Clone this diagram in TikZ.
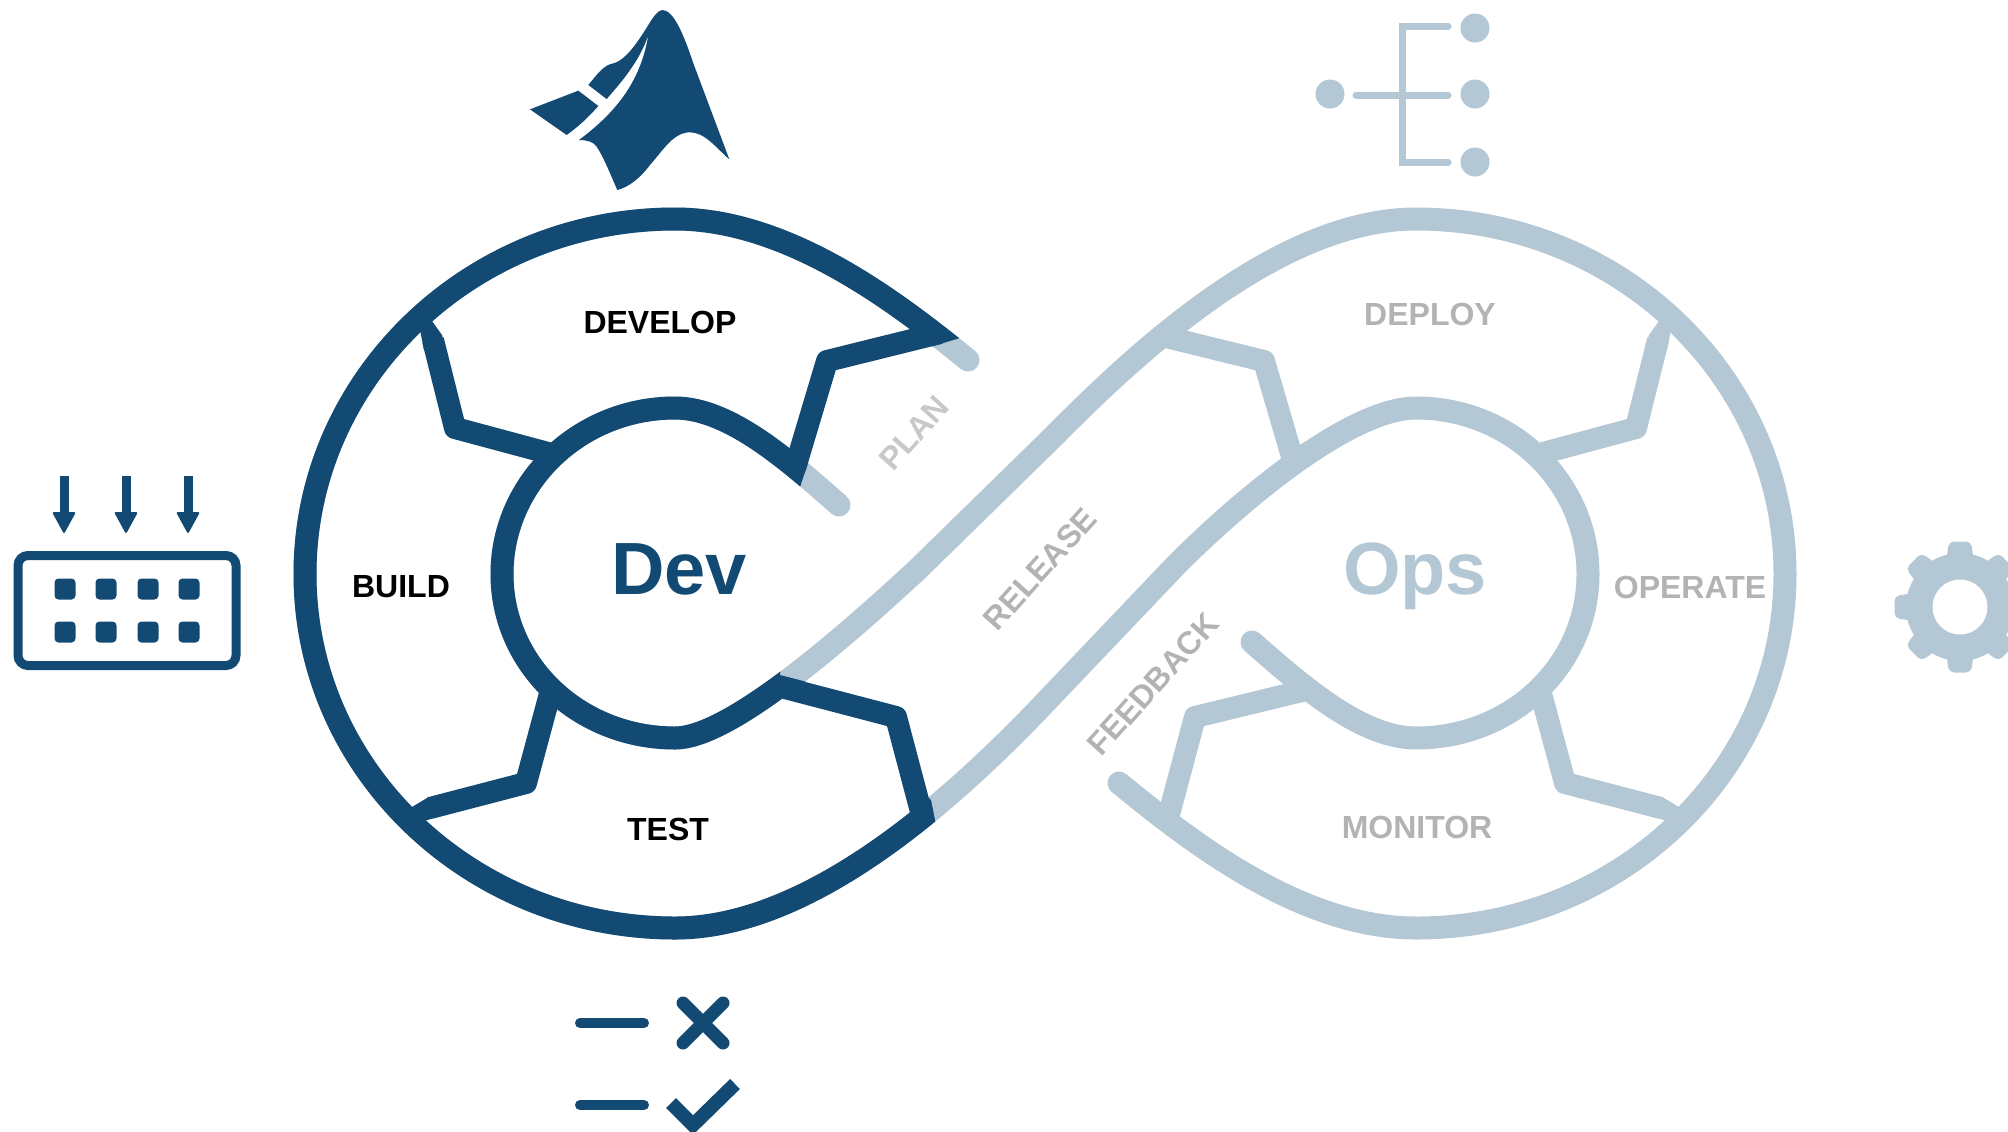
\documentclass[tikz,border=0pt]{standalone}
\usepackage{fontspec}
\setmainfont{Liberation Sans}
\definecolor{devblue}{HTML}{134A73}
\definecolor{opsblue}{HTML}{B4C7D4}
\definecolor{labelgray}{HTML}{B3B3B3}
\definecolor{plangray}{HTML}{C8C8C8}
\tikzset{
  band/.style={line width=11.5pt,line cap=round,line join=round},
  spoke/.style={line width=11pt,line cap=butt,line join=round},
  phase/.style={font=\fontsize{16pt}{18pt}\selectfont\bfseries,inner sep=0pt},
  sidelabel/.style={font=\fontsize{16pt}{18pt}\selectfont\bfseries,inner sep=0pt,text=labelgray},
  bigword/.style={font=\fontsize{37pt}{40pt}\selectfont\bfseries,inner sep=0pt,anchor=base},
  iconbar/.style={line width=5pt,line cap=round,draw=devblue},
  treebar/.style={line width=3.5pt,draw=opsblue,line join=miter}
}
\begin{document}
\begin{tikzpicture}[x=0.5pt,y=-0.5pt]
\useasboundingbox (0,0) rectangle (2008,1131);

% light infinity strands
\draw[band,opsblue] (839,505) .. controls (790,462) and (730,408) .. (675,408)
  .. controls (579,408) and (502,483) .. (502,574)
  .. controls (502,665) and (579,738) .. (675,738)
  .. controls (725,738) and (825,655) .. (917,570)
  -- (1054,436)
  .. controls (1141,348) and (1281,219) .. (1416,219)
  .. controls (1620,219) and (1785,378) .. (1785,574)
  .. controls (1785,770) and (1620,928) .. (1416,928)
  .. controls (1301,928) and (1191,842) .. (1119,783);
\draw[band,opsblue] (968,360) .. controls (900,305) and (790,219) .. (675,219)
  .. controls (471,219) and (305,378) .. (305,574)
  .. controls (305,770) and (471,928) .. (675,928)
  .. controls (810,928) and (950,801) .. (1037,711)
  -- (1178,563)
  .. controls (1266,476) and (1360,408) .. (1416,408)
  .. controls (1512,408) and (1588,483) .. (1588,574)
  .. controls (1588,665) and (1512,738) .. (1416,738)
  .. controls (1361,738) and (1301,685) .. (1252,642);

% light spokes
\draw[spoke,opsblue] (1166,337) -- (1264,361) -- (1293,460);
\draw[spoke,opsblue] (1658,340) -- (1636,428) -- (1543,453);
\fill[opsblue] (1659,321) -- (1649,335) -- (1645,350) -- (1667,350) -- (1673,320) -- cycle;
\draw[spoke,opsblue] (1661,808) -- (1565,783) -- (1540,690);
\fill[opsblue] (1679,807) -- (1664,798) -- (1646,793.5) -- (1643,814) -- (1674,823) -- cycle;
\draw[spoke,opsblue] (1306,690) -- (1195,717) -- (1168,818);

% dark strands, cut off where the spokes end
\begin{scope}
\clip (0,0) -- (960,0) -- (960,338) -- (930,347) -- (808,463) -- (800,487)
  -- (780,675) -- (807,682) -- (931,800) -- (936,825) -- (936,1131) -- (0,1131) -- cycle;
\draw[band,devblue] (968,360) .. controls (900,305) and (790,219) .. (675,219)
  .. controls (471,219) and (305,378) .. (305,574)
  .. controls (305,770) and (471,928) .. (675,928)
  .. controls (810,928) and (950,801) .. (1037,711);
\draw[band,devblue] (839,505) .. controls (790,462) and (730,408) .. (675,408)
  .. controls (579,408) and (502,483) .. (502,574)
  .. controls (502,665) and (579,738) .. (675,738)
  .. controls (725,738) and (825,655) .. (917,570);
\end{scope}

% dark spokes
\draw[spoke,devblue] (940,333) -- (827,361) -- (795,468);
\draw[spoke,devblue] (433,340) -- (455,428) -- (548,453);
\fill[devblue] (432,321) -- (442,335) -- (446,350) -- (424,350) -- (418,320) -- cycle;
\draw[spoke,devblue] (430,808) -- (526,783) -- (551,690);
\fill[devblue] (412,807) -- (427,798) -- (445,793.5) -- (448,814) -- (417,823) -- cycle;
\draw[spoke,devblue] (785,688) -- (896,717) -- (923.5,821);

% labels
\node[phase] (develop) at (660,322) {DEVELOP};
\node[phase] (build) at (401,587) {BUILD};
\node[phase] (test) at (668,829) {TEST};
\node[phase,text=labelgray] (deploy) at (1430,314) {DEPLOY};
\node[phase,text=labelgray] (operate) at (1690,587) {OPERATE};
\node[phase,text=labelgray] (monitor) at (1417,827) {MONITOR};
\node[sidelabel,text=plangray,rotate=48] (plan) at (914,433) {PLAN};
\node[sidelabel,rotate=48] (release) at (1040,569) {RELEASE};
\node[sidelabel,rotate=48] (feedback) at (1153,684) {FEEDBACK};
\node[bigword,text=devblue] (dev) at (679,594) {Dev};
\node[bigword,text=opsblue] (ops) at (1415,594) {Ops};

% MATLAB-like peak
\begin{scope}[shift={(500,0)},x=0.5pt/3,y=-0.5pt/3]
\fill[devblue] (487,30) .. controls (520,30) and (550,100) .. (580,190) -- (688,478)
  .. controls (650,445) and (615,397) .. (570,397)
  .. controls (520,397) and (490,450) .. (450,495)
  .. controls (420,535) and (385,562) .. (352,570)
  .. controls (330,520) and (310,470) .. (290,440)
  .. controls (280,425) and (260,420) .. (237,420)
  .. controls (330,350) and (420,260) .. (445,105)
  .. controls (420,180) and (370,240) .. (320,297)
  -- (265,255)
  .. controls (290,225) and (310,195) .. (340,190)
  .. controls (380,180) and (420,115) .. (445,75)
  .. controls (460,50) and (475,30) .. (487,30) -- cycle;
\fill[devblue] (90,328) -- (235,272) -- (295,318) .. controls (265,352) and (235,380) .. (200,405) -- cycle;
\end{scope}

% tree icon
\fill[opsblue] (1330,94) circle (14.5);
\fill[opsblue] (1475,28) circle (14.5);
\fill[opsblue] (1475,94) circle (14.5);
\fill[opsblue] (1475,162) circle (14.5);
\draw[treebar,line cap=round] (1448,26) -- (1402,26) -- (1402,162) -- (1448,162);
\draw[treebar,line cap=round] (1356,95) -- (1448,95);

% board and arrows icon
\draw[devblue,line width=4.5pt,rounded corners=5pt] (18,555.5) rectangle (236,665.5);
\foreach \cx in {65,106,148,189}
  \foreach \cy in {589,632}
    \fill[devblue,rounded corners=2pt] (\cx-10.5,\cy-10.5) rectangle (\cx+10.5,\cy+10.5);
\foreach \ax in {64,126,188}{
  \fill[devblue] (\ax-4.5,476) rectangle (\ax+4.5,515);
  \fill[devblue,rounded corners=1pt] (\ax-12,512) -- (\ax+12,512) -- (\ax,534) -- cycle;
}

% gear icon
\begin{scope}[shift={(1960,607)}]
\fill[opsblue] (0,0) circle (54);
\foreach \ga in {0,45,...,315}
  \fill[opsblue,rotate=\ga,rounded corners=2.5pt] (-11,-65.5) -- (11,-65.5) -- (14,-45) -- (-14,-45) -- cycle;
\fill[white] (0,0) circle (27.5);
\end{scope}

% cross and check icon
\draw[iconbar] (580,1023) -- (644,1023);
\draw[iconbar] (580,1105) -- (644,1105);
\draw[devblue,line width=6.5pt,line cap=round] (683,1003) -- (723,1043);
\draw[devblue,line width=6.5pt,line cap=round] (723,1003) -- (683,1043);
\draw[devblue,line width=7pt,line cap=butt,line join=miter] (671,1103) -- (693,1125) -- (735,1084);
\end{tikzpicture}
\end{document}
